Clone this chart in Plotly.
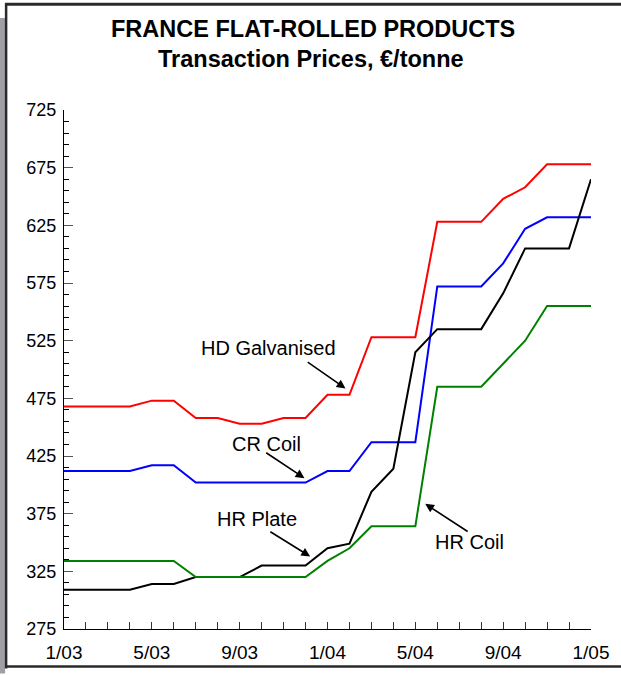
import plotly.graph_objects as go

# Month index 0 = Jan 2003 ... 24 = Jan 2005
months = list(range(25))
tick_labels = ["1/03", "", "", "", "5/03", "", "", "", "9/03", "", "", "",
               "1/04", "", "", "", "5/04", "", "", "", "9/04", "", "", "", "1/05"]

hd_galvanised = [468, 468, 468, 468, 473, 473, 458, 458, 453, 453, 458, 458,
                 478, 478, 528, 528, 528, 628, 628, 628, 648, 658, 678, 678, 678]
cr_coil = [412, 412, 412, 412, 417, 417, 402, 402, 402, 402, 402, 402,
           412, 412, 437, 437, 437, 572, 572, 572, 592, 622, 632, 632, 632]
hr_plate = [309, 309, 309, 309, 314, 314, 320, 320, 320, 330, 330, 330,
            345, 349, 394, 414, 515, 535, 535, 535, 566, 605, 605, 605, 665]
hr_coil = [334, 334, 334, 334, 334, 334, 320, 320, 320, 320, 320, 320,
           334, 345, 364, 364, 364, 485, 485, 485, 505, 525, 555, 555, 555]

series = [
    ("HD Galvanised", hd_galvanised, "#ff0000"),
    ("CR Coil", cr_coil, "#0000ff"),
    ("HR Plate", hr_plate, "#000000"),
    ("HR Coil", hr_coil, "#008000"),
]

fig = go.Figure()
for name, vals, col in series:
    fig.add_trace(go.Scatter(x=months, y=vals, mode="lines", name=name,
                             line=dict(color=col, width=2), hoverinfo="skip"))

font_family = "Liberation Sans, Arial, sans-serif"

# label text (center positions) and arrows (tail -> tip), data coordinates
labels = [
    ("HD Galvanised", 9.32, 518.5),
    ("CR Coil", 9.23, 435.5),
    ("HR Plate", 8.8, 370.5),
    ("HR Coil", 18.48, 350.5),
]
arrows = [
    (11.03, 507.3, 12.82, 483.6),
    (9.14, 428.7, 10.95, 405.8),
    (9.33, 360.1, 11.21, 337.9),
    (18.45, 358.7, 16.45, 383.5),
]

annotations = []
for txt, x, y in labels:
    annotations.append(dict(x=x, y=y, xref="x", yref="y", text=txt, showarrow=False,
                            font=dict(family=font_family, size=20, color="#000000"),
                            xanchor="center", yanchor="middle"))
for tx, ty, hx, hy in arrows:
    annotations.append(dict(x=hx, y=hy, xref="x", yref="y", ax=tx, ay=ty,
                            axref="x", ayref="y", text="", showarrow=True,
                            arrowhead=2, arrowsize=1.1, arrowwidth=1.6,
                            arrowcolor="#000000"))

L, R, T, B = 64, 29, 110, 40
W, H = 621, 675
pw, ph = W - L - R, H - T - B

def px_x(px):
    return (px - L) / pw

def px_y(py):
    return (H - B - py) / ph

annotations.append(dict(x=px_x(313), y=px_y(28), xref="paper", yref="paper",
                        text="<b>FRANCE FLAT-ROLLED PRODUCTS</b>", showarrow=False,
                        font=dict(family=font_family, size=23.5, color="#000000"),
                        xanchor="center", yanchor="middle"))
annotations.append(dict(x=px_x(311), y=px_y(58), xref="paper", yref="paper",
                        text="<b>Transaction Prices, €/tonne</b>", showarrow=False,
                        font=dict(family=font_family, size=23.5, color="#000000"),
                        xanchor="center", yanchor="middle"))

shapes = [
    # gray strip on left
    dict(type="rect", xref="paper", yref="paper", x0=px_x(-2), x1=px_x(5),
         y0=px_y(680), y1=px_y(17), fillcolor="#a0a0a4", line=dict(width=0), layer="below"),
    # dark frame lines
    dict(type="line", xref="paper", yref="paper", x0=px_x(6), x1=px_x(6),
         y0=px_y(675), y1=px_y(2), line=dict(color="#2a2a2a", width=2.5)),
    dict(type="line", xref="paper", yref="paper", x0=px_x(5), x1=px_x(625),
         y0=px_y(3), y1=px_y(3), line=dict(color="#2a2a2a", width=3)),
    dict(type="line", xref="paper", yref="paper", x0=px_x(5), x1=px_x(625),
         y0=px_y(673), y1=px_y(673), line=dict(color="#2a2a2a", width=2.5)),
]

fig.update_layout(
    width=W, height=H,
    margin=dict(l=L, r=R, t=T, b=B, pad=0),
    paper_bgcolor="white", plot_bgcolor="white",
    showlegend=False,
    font=dict(family=font_family, size=17, color="#000000"),
    annotations=annotations,
    shapes=shapes,
    xaxis=dict(range=[0, 24], tickmode="array", tickvals=months, ticktext=tick_labels,
               ticks="inside", ticklen=7, tickcolor="#333333", tickwidth=1,
               showline=True, linecolor="#000000", linewidth=1, showgrid=False,
               zeroline=False, tickfont=dict(size=19), ticklabelstandoff=6),
    yaxis=dict(range=[275, 725], tick0=275, dtick=50, ticks="inside", ticklen=9,
               tickcolor="#555555", tickwidth=1.2,
               minor=dict(dtick=10, tick0=275, ticks="inside", ticklen=5,
                          tickcolor="#000000", tickwidth=1, showgrid=False),
               showline=True, linecolor="#000000", linewidth=1, showgrid=False,
               zeroline=False, tickfont=dict(size=18), ticklabelstandoff=3),
)

fig.write_html("out.html", config={"displayModeBar": False},
               post_script="document.body.style.margin='0';document.body.style.overflow='hidden';")
